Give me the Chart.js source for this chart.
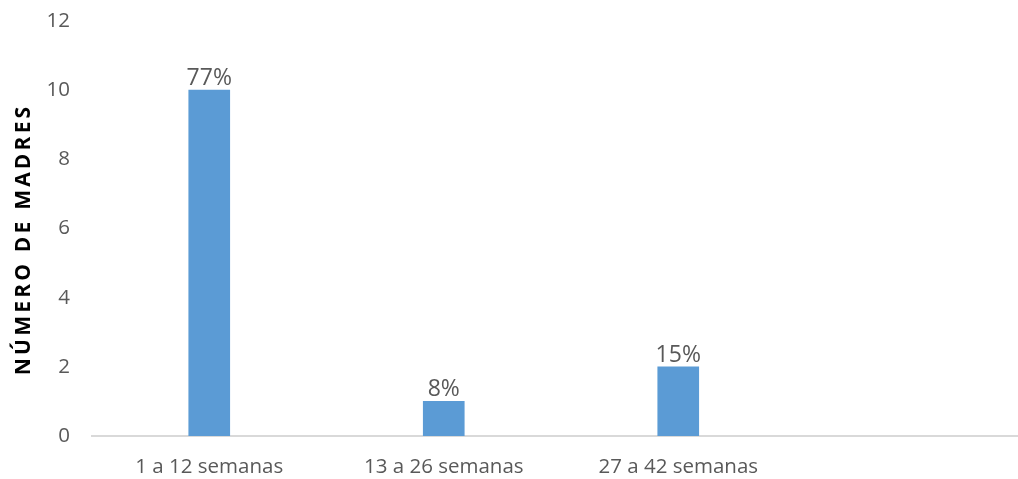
<!DOCTYPE html>
<html>
<head>
<meta charset="utf-8">
<script src="https://cdn.jsdelivr.net/npm/chart.js@4/dist/chart.umd.min.js"></script>
<style>
  html, body { margin: 0; padding: 0; background: #fff; overflow: hidden; }
  #wrap { width: 1031px; height: 479px; }
</style>
</head>
<body>
<div id="wrap"><canvas id="grafico"></canvas></div>
<script>
const categorias = ['1 a 12 semanas', '13 a 26 semanas', '27 a 42 semanas', ''];
const madres = [10, 1, 2, null];
const porcentajes = ['77%', '8%', '15%', ''];
const ticksY = [0, 2, 4, 6, 8, 10, 12];
const tituloY = 'NÚMERO DE MADRES';

const gris = '#595959';
const fuente = { family: 'Open Sans', size: 20.5 };

// etiquetas de porcentaje encima de cada barra + titulo del eje Y
const etiquetas = {
  id: 'etiquetas',
  afterDatasetsDraw(chart) {
    const ctx = chart.ctx;
    const meta = chart.getDatasetMeta(0);
    ctx.save();
    ctx.font = '23px "Open Sans"';
    ctx.fillStyle = gris;
    ctx.textAlign = 'center';
    ctx.textBaseline = 'alphabetic';
    meta.data.forEach((bar, i) => {
      if (madres[i] == null) return;
      ctx.fillText(porcentajes[i], bar.x, bar.y - 5);
    });
    ctx.restore();

    ctx.save();
    ctx.translate(24, 241);
    ctx.rotate(-Math.PI / 2);
    ctx.font = 'bold 21px "Open Sans"';
    ctx.letterSpacing = '3.2px';
    ctx.fillStyle = '#000';
    ctx.textAlign = 'center';
    ctx.textBaseline = 'middle';
    ctx.fillText(tituloY, 1.6, 0);
    ctx.restore();
  }
};

new Chart(document.getElementById('grafico'), {
  type: 'bar',
  data: {
    labels: categorias,
    datasets: [{
      data: madres,
      backgroundColor: '#5b9bd5',
      barThickness: 41
    }]
  },
  plugins: [etiquetas],
  options: {
    responsive: true,
    maintainAspectRatio: false,
    animation: false,
    layout: { padding: { top: 0, right: 1, bottom: 0, left: 0 } },
    plugins: {
      legend: { display: false },
      tooltip: { enabled: false }
    },
    scales: {
      x: {
        grid: { display: false, drawTicks: false },
        border: { color: '#d9d9d9', width: 2 },
        ticks: { color: gris, font: fuente, padding: 19, maxRotation: 0, autoSkip: false },
        afterFit: s => { s.height = 43; }
      },
      y: {
        min: 0,
        max: 12,
        afterBuildTicks: s => { s.ticks = ticksY.map(v => ({ value: v })); },
        grid: { display: false, drawTicks: false },
        border: { display: false },
        ticks: { color: gris, font: fuente, padding: 22 },
        afterFit: s => { s.width = 92; s.paddingTop = 21; }
      }
    }
  }
});
</script>
</body>
</html>
